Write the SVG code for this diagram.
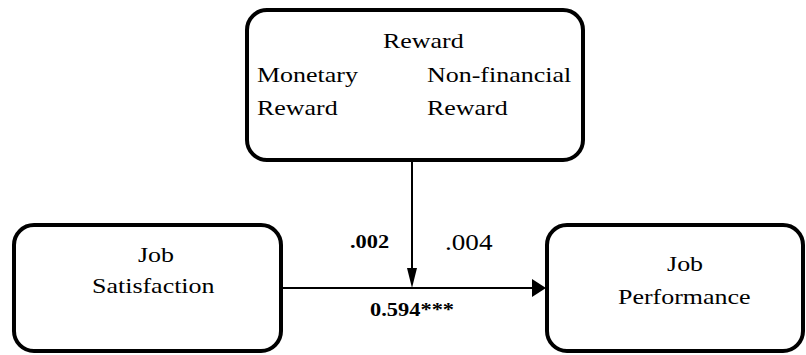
<svg xmlns="http://www.w3.org/2000/svg" width="806" height="355" viewBox="0 0 806 355">
<style>
.box{fill:#fff;stroke:#000;stroke-width:4}
.t{font-size:22px;fill:#000}
.b{font-size:19px;font-weight:bold;fill:#000}
.n{font-size:23px;fill:#000}
.ln{stroke:#000;stroke-width:2;fill:none}
.ah{fill:#000}
</style>
<rect width="806" height="355" fill="#fff"/>
<g id="connectors">
<line class="ln" x1="412" y1="160" x2="412" y2="272"/>
<polygon class="ah" points="407,268 417,268 412,288"/>
<line class="ln" x1="281" y1="288" x2="534" y2="288"/>
<polygon class="ah" points="532,279 546,288 532,297"/>
</g>
<g font-family="Liberation Serif, DejaVu Serif, serif">
<g id="reward">
<rect class="box" x="247" y="10" width="336" height="150" rx="20"/>
<g transform="scale(1.18,1)">
<text class="t" x="324.6" y="48">Reward</text>
<text class="t" x="217.8" y="82">Monetary</text>
<text class="t" x="361.9" y="82">Non-financial</text>
<text class="t" x="217.8" y="115">Reward</text>
<text class="t" x="361.9" y="115">Reward</text>
</g>
</g>
<g id="job-satisfaction">
<rect class="box" x="14" y="225" width="267" height="126" rx="20"/>
<g transform="scale(1.18,1)">
<text class="t" x="116.9" y="262">Job</text>
<text class="t" x="78" y="293">Satisfaction</text>
</g>
</g>
<g id="job-performance">
<rect class="box" x="547" y="225" width="256" height="126" rx="20"/>
<g transform="scale(1.18,1)">
<text class="t" x="565.3" y="271">Job</text>
<text class="t" x="523.7" y="304">Performance</text>
</g>
</g>
<g id="labels" transform="scale(1.18,1)">
<text class="b" x="296.6" y="248">.002</text>
<text class="n" x="377.1" y="250">.004</text>
<text class="b" x="313.6" y="316">0.594***</text>
</g>
</g>
</svg>
